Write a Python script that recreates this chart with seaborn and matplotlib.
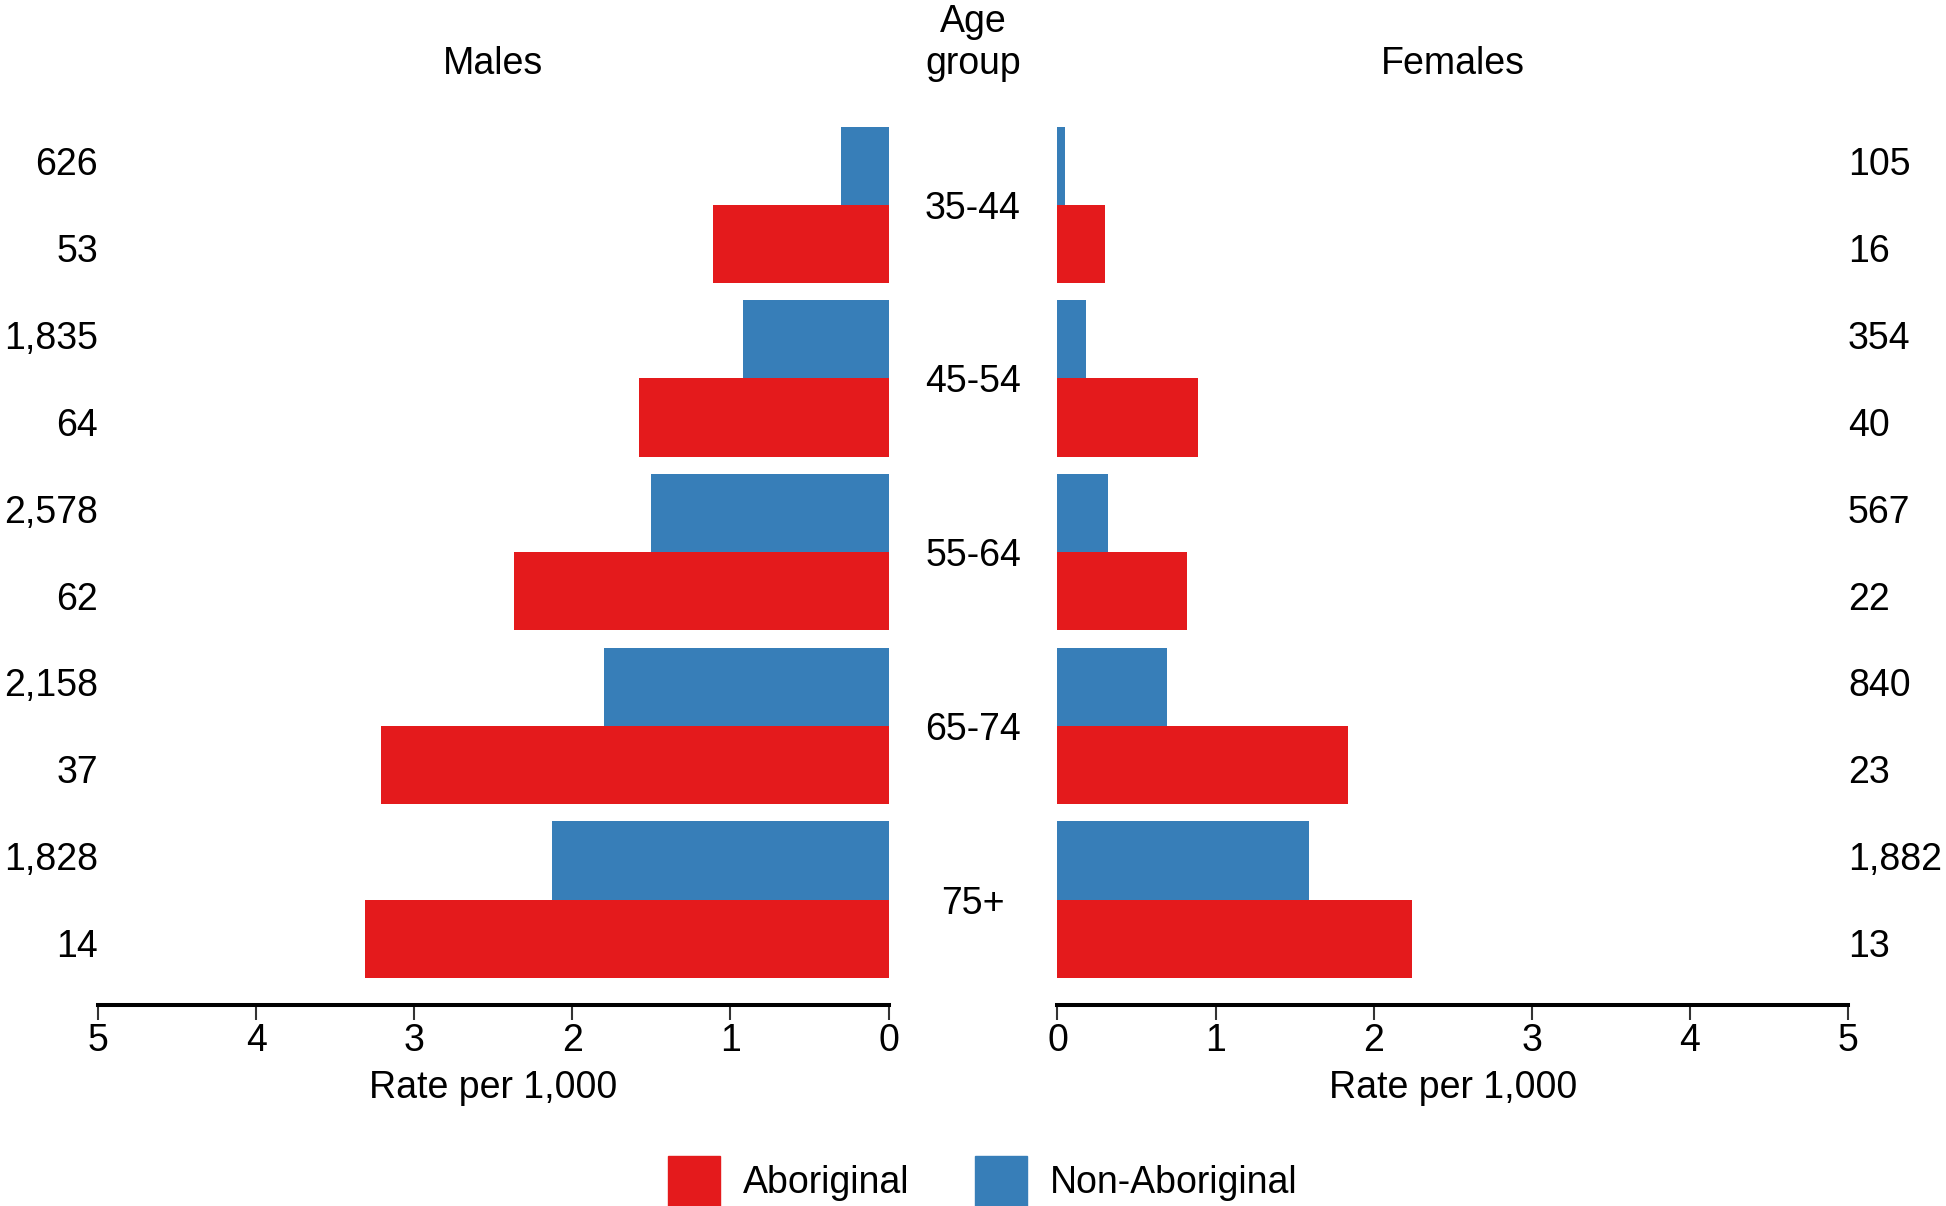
import pandas as pd
import matplotlib.pyplot as plt
import matplotlib.transforms as mtrans
from matplotlib.patches import Patch
import seaborn as sns

# values (rate per 1,000 and counts)
age_groups = ['35-44', '45-54', '55-64', '65-74', '75+']
male_abor = [1.11, 1.58, 2.37, 3.21, 3.31]
male_non = [0.30, 0.92, 1.50, 1.80, 2.13]
female_abor = [0.30, 0.89, 0.82, 1.84, 2.24]
female_non = [0.05, 0.18, 0.32, 0.69, 1.59]
male_n_abor = [53, 64, 62, 37, 14]
male_n_non = [626, 1835, 2578, 2158, 1828]
female_n_abor = [16, 40, 22, 23, 13]
female_n_non = [105, 354, 567, 840, 1882]

groups = ['Non-Aboriginal', 'Aboriginal']
colors = {'Aboriginal': '#E41A1C', 'Non-Aboriginal': '#377EB8'}


def make_df(abor, non):
    return pd.DataFrame({
        'age': age_groups * 2,
        'rate': non + abor,
        'group': ['Non-Aboriginal'] * len(age_groups) + ['Aboriginal'] * len(age_groups),
    })


sns.set_style('white')
plt.rcParams['font.family'] = ['Liberation Sans', 'DejaVu Sans']
plt.rcParams['text.color'] = 'black'
plt.rcParams['axes.labelcolor'] = 'black'
plt.rcParams['xtick.labelcolor'] = 'black'
FS = 27

fig = plt.figure(figsize=(19.46, 12.06), dpi=100)
ax_l = fig.add_axes([0.0504, 0.1667, 0.4062, 0.7428])
ax_r = fig.add_axes([0.5434, 0.1667, 0.4062, 0.7428])

panels = [
    (ax_l, make_df(male_abor, male_non), male_n_non, male_n_abor, (5, 0), 'right'),
    (ax_r, make_df(female_abor, female_non), female_n_non, female_n_abor, (0, 5), 'left'),
]

for ax, df, n_non, n_abor, xlim, ha in panels:
    sns.barplot(data=df, y='age', x='rate', hue='group', hue_order=groups,
                palette=colors, saturation=1, orient='h', width=0.9, errorbar=None,
                linewidth=0, legend=False, ax=ax)
    ax.set_xlim(*xlim)
    ax.set_ylim(4.607, -0.55)
    ax.set_yticks([])
    ax.set_ylabel('')
    ax.set_xticks(range(6))
    ax.set_xlabel('Rate per 1,000', fontsize=FS, labelpad=8)
    ax.tick_params(axis='x', labelsize=FS, length=11, width=1.5, pad=2,
                   direction='out', bottom=True, color='#333333')
    for s in ['left', 'right', 'top']:
        ax.spines[s].set_visible(False)
    ax.spines['bottom'].set_linewidth(2.9)
    ax.spines['bottom'].set_color('black')

    # counts at the outer edge of each panel, evenly spaced within each group
    for i in range(len(age_groups)):
        ax.text(5, i - 0.25, f'{n_non[i]:,}', ha=ha, va='center_baseline', fontsize=FS)
        ax.text(5, i + 0.25, f'{n_abor[i]:,}', ha=ha, va='center_baseline', fontsize=FS)

# age group labels in the middle
blend = mtrans.blended_transform_factory(fig.transFigure, ax_l.transData)
for i, g in enumerate(age_groups):
    ax_l.text(0.5, i, g, transform=blend, ha='center', va='center_baseline', fontsize=FS)

fig.text(0.2535, 0.9383, 'Males', ha='center', va='baseline', fontsize=FS)
fig.text(0.7465, 0.9383, 'Females', ha='center', va='baseline', fontsize=FS)
fig.text(0.5, 0.9733, 'Age', ha='center', va='baseline', fontsize=FS)
fig.text(0.5, 0.9383, 'group', ha='center', va='baseline', fontsize=FS)

handles = [Patch(color=colors['Aboriginal'], label='Aboriginal'),
           Patch(color=colors['Non-Aboriginal'], label='Non-Aboriginal')]
fig.legend(handles=handles, loc='lower center', bbox_to_anchor=(0.505, 0.0),
           ncol=2, frameon=False, fontsize=FS, handlelength=1.39, handleheight=1.67,
           handletextpad=0.6, columnspacing=1.75, borderpad=0, borderaxespad=0)

fig.savefig('out.png', dpi=100)
